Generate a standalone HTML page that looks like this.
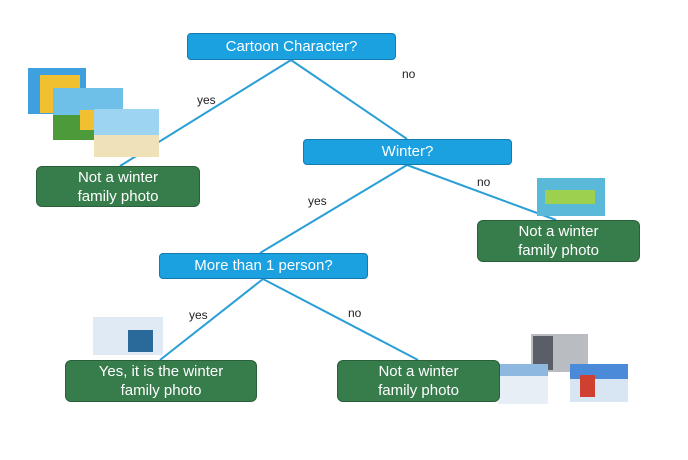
<!DOCTYPE html>
<html><head><style>
body{margin:0;width:688px;height:460px;background:#fff;position:relative;overflow:hidden;font-family:"Liberation Sans","DejaVu Sans",sans-serif}
.b{position:absolute;background:#1ba0e0;border:1px solid #137bb0;border-radius:4px;color:#fff;font-size:15px;text-align:center;box-sizing:border-box}
.g{position:absolute;background:#377c4b;border:1px solid #2a5f39;border-radius:6px;color:#fff;font-size:15px;text-align:center;line-height:19px;box-sizing:border-box;padding-top:1px}
.l{position:absolute;font-size:12px;color:#222}
.p{position:absolute}
</style></head><body>
<svg class="p" style="left:0;top:0" width="688" height="460">
<g stroke="#2a9fd6" stroke-width="2" fill="none">
<line x1="291" y1="60" x2="120" y2="166"/>
<line x1="291" y1="60" x2="407" y2="139"/>
<line x1="407" y1="165" x2="260" y2="253"/>
<line x1="407" y1="165" x2="556" y2="220"/>
<line x1="263" y1="279" x2="160" y2="360"/>
<line x1="263" y1="279" x2="418" y2="360"/>
</g>
<rect x="28" y="68" width="58" height="46" fill="#3fa0e0"/>
<rect x="40" y="75" width="40" height="38" fill="#f0c030"/>
<rect x="53" y="88" width="70" height="52" fill="#6fc0e8"/>
<rect x="53" y="115" width="70" height="25" fill="#4c9a3a"/>
<rect x="80" y="110" width="30" height="20" fill="#f0c030"/>
<rect x="94" y="109" width="65" height="48" fill="#9dd4f2"/>
<rect x="94" y="135" width="65" height="22" fill="#efe2b8"/>
<rect x="537" y="178" width="68" height="38" fill="#5ab8d8"/>
<rect x="545" y="190" width="50" height="14" fill="#9ed050"/>
<rect x="93" y="317" width="70" height="38" fill="#dfeaf4"/>
<rect x="128" y="330" width="25" height="22" fill="#2a6a9a"/>
<rect x="531" y="334" width="57" height="38" fill="#b9bdc2"/>
<rect x="533" y="336" width="20" height="34" fill="#5a5e66"/>
<rect x="498" y="364" width="50" height="40" fill="#e8eef5"/>
<rect x="498" y="364" width="50" height="12" fill="#8fb8e0"/>
<rect x="570" y="364" width="58" height="38" fill="#d8e6f4"/>
<rect x="570" y="364" width="58" height="15" fill="#4a8ad8"/>
<rect x="580" y="375" width="15" height="22" fill="#d04030"/>
</svg>
<div class="b" style="left:187px;top:33px;width:209px;height:27px;line-height:25px">Cartoon Character?</div>
<div class="b" style="left:303px;top:139px;width:209px;height:26px;line-height:24px">Winter?</div>
<div class="b" style="left:159px;top:253px;width:209px;height:26px;line-height:24px">More than 1 person?</div>
<div class="g" style="left:36px;top:166px;width:164px;height:41px">Not a winter<br>family photo</div>
<div class="g" style="left:477px;top:220px;width:163px;height:42px">Not a winter<br>family photo</div>
<div class="g" style="left:65px;top:360px;width:192px;height:42px">Yes, it is the winter<br>family photo</div>
<div class="g" style="left:337px;top:360px;width:163px;height:42px">Not a winter<br>family photo</div>
<div class="l" style="left:197px;top:93px">yes</div>
<div class="l" style="left:402px;top:67px">no</div>
<div class="l" style="left:308px;top:194px">yes</div>
<div class="l" style="left:477px;top:175px">no</div>
<div class="l" style="left:189px;top:308px">yes</div>
<div class="l" style="left:348px;top:306px">no</div>
</body></html>
